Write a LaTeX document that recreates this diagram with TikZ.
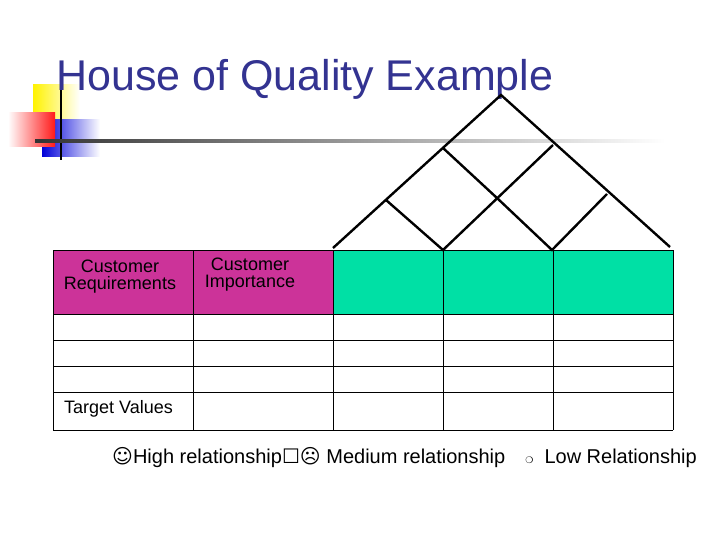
\documentclass[tikz,border=0pt]{standalone}
\usepackage{fontspec}
\setmainfont{Liberation Sans}
\newfontfamily\dvs{DejaVu Sans}
\definecolor{titleblue}{RGB}{51,51,145}
\definecolor{magent}{RGB}{204,51,153}
\definecolor{teal}{RGB}{0,224,165}
\begin{document}
\begin{tikzpicture}[x=1pt,y=-1pt,
  cell/.style={draw=black,line width=0.9pt},
  roof/.style={draw=black,line width=2.4pt},
  lbl/.style={font=\fontsize{18}{17}\selectfont,align=center,inner sep=0pt}]
\useasboundingbox (0,0) rectangle (720,540);
\clip (0,0) rectangle (720,540);
% decoration
\shade[left color=yellow!90!orange, right color=white] (33,85) rectangle (80,120);
\shade[left color=blue!85!black, right color=white] (42,120) rectangle (100,157);
\shade[left color=white, right color=red!90] (8,113) rectangle (55,147);
\draw[line width=2pt] (61,80) -- (61,160);
\shade[left color=black!80, right color=white] (35,140) rectangle (665,143);
% title
\node[anchor=base west,inner sep=0pt,text=titleblue,font=\fontsize{43}{43}\selectfont] (title) at (56,91) {House of Quality Example};
% table fills
\fill[magent] (53,250) rectangle (333,314);
\fill[teal] (333,250) rectangle (673,314);
\foreach \x in {53,193,333,443,553,673} \draw[cell] (\x,250) -- (\x,430);
\foreach \y in {250,314,340,366,392,430} \draw[cell] (53,\y) -- (673,\y);
\node[lbl] (cr) at (120,277) {Customer\\Requirements};
\node[lbl] (ci) at (250,275) {Customer\\Importance};
\node[lbl,anchor=west] (tv) at (64,409) {Target Values};
% roof
\coordinate (A) at (501,95);
\coordinate (L) at (333,248);
\coordinate (R) at (670,247);
\coordinate (l1) at (386,200);
\coordinate (l2) at (443,148);
\coordinate (r1) at (553,145);
\coordinate (r2) at (607,194);
\coordinate (m) at (497,198);
\coordinate (b1) at (443,250);
\coordinate (b2) at (552,250);
\draw[roof] (L) -- (A) -- (R);
\draw[roof] (l1) -- (b1) -- (r1);
\draw[roof] (l2) -- (m) -- (b2) -- (r2);
% legend
\node[anchor=base west,inner sep=0pt,font=\fontsize{20}{20}\selectfont] (leg) at (112,463)
 {{\dvs ☺}High relationship{\dvs ☐☹} Medium relationship\quad{\dvs\small ❍}\; Low Relationship};
\end{tikzpicture}
\end{document}
